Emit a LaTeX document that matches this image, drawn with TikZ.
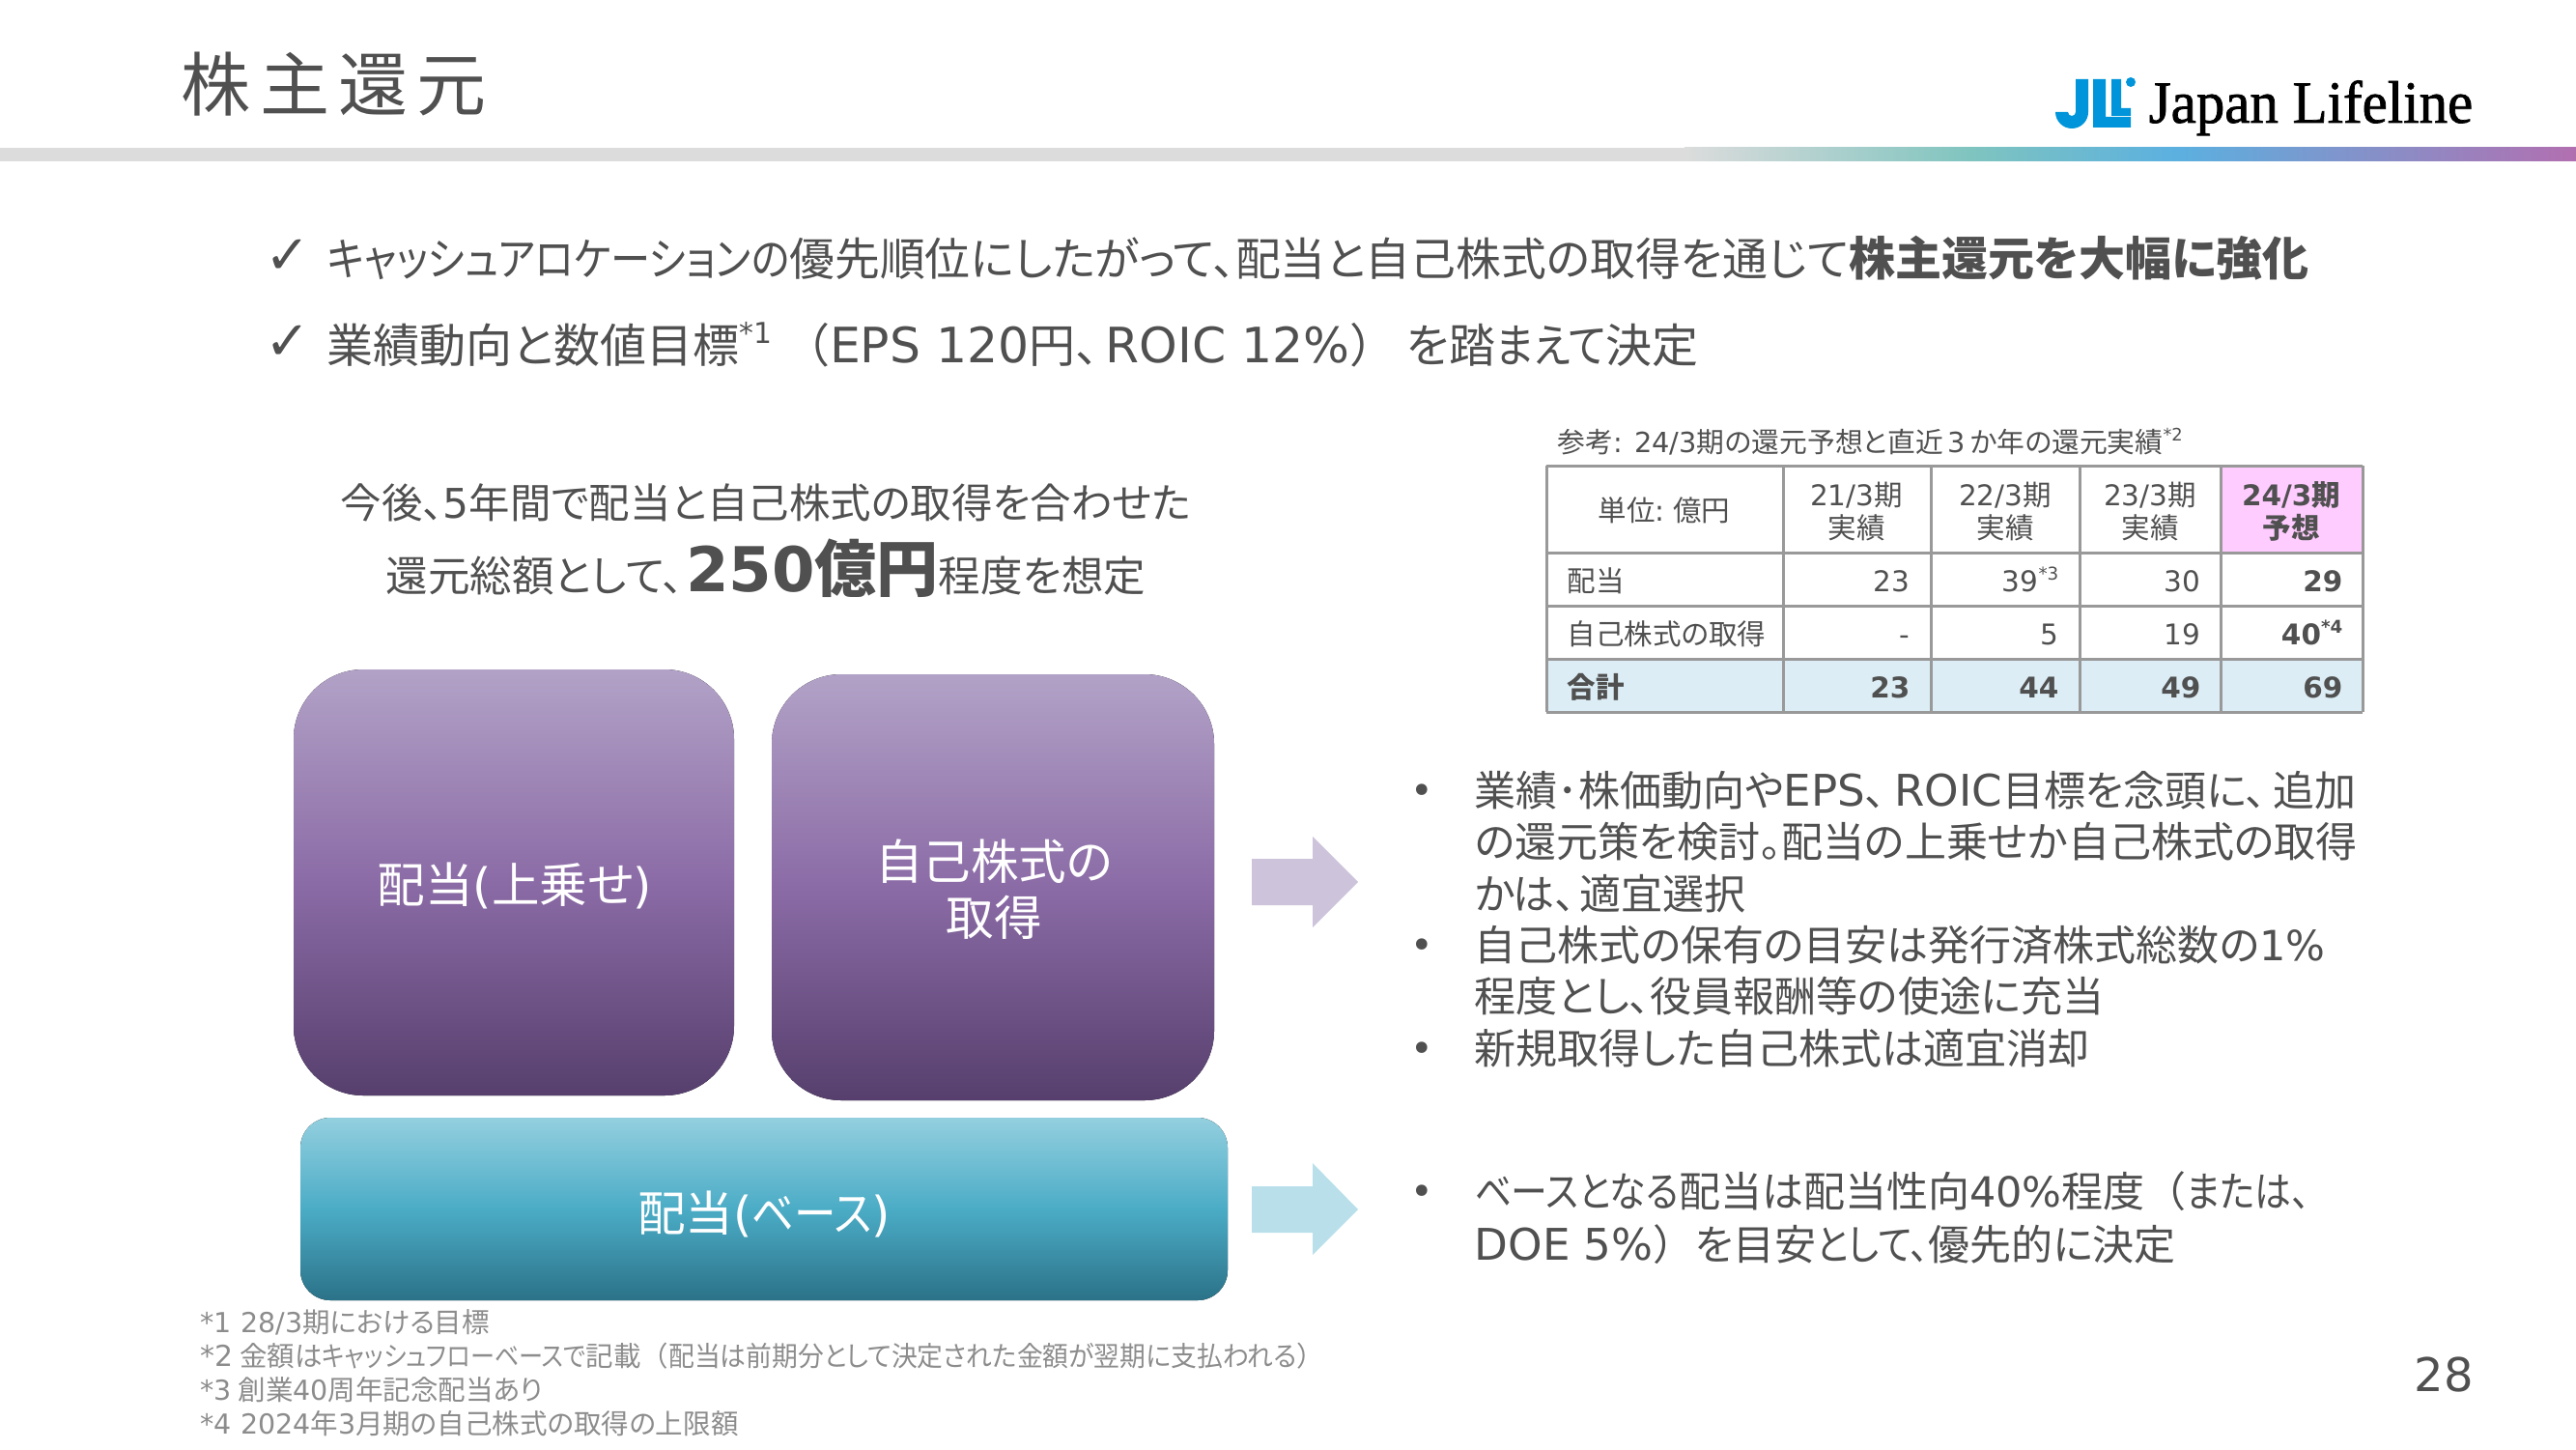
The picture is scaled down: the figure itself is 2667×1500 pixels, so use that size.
\documentclass[tikz,border=0pt]{standalone}
\usepackage{fontspec}
\usepackage{xcolor}
\usetikzlibrary{positioning}
\setmainfont{Noto Sans CJK JP}[RawFeature={+palt}]
\newfontfamily\lat{DejaVu Sans}
\newfontfamily\latw{DejaVu Sans}[Scale=1.05]
\newfontfamily\serifname{Liberation Serif}[FakeStretch=0.95, FakeBold=1.2]
\newfontfamily\titlefont{Noto Sans CJK JP}[LetterSpace=13]
\newfontfamily\narrow{Noto Sans CJK JP}[RawFeature={+palt}, FakeStretch=0.88]
\newfontfamily\narrowb{Noto Sans CJK JP}[RawFeature={+palt}, FakeStretch=0.94]
\newfontfamily\fullw{Noto Sans CJK JP}
\newcommand{\pxfont}[1]{\fontsize{\fpeval{#1*0.2845}}{\fpeval{#1*0.34}}\selectfont}
\newcommand{\la}[1]{{\lat #1}}
\newcommand{\lw}[1]{{\latw #1}}
\newcommand{\nk}[1]{{\narrow #1}}
\newcommand{\nb}[1]{{\narrowb #1}}
\newcommand{\fw}[1]{{\fullw #1}}
\makeatletter
\newcommand{\supr}[1]{\raisebox{.42em}{\lat\fontsize{\fpeval{\f@size*.62}}{1}\selectfont #1}}
\makeatother
\definecolor{ink}{HTML}{505050}
\definecolor{note}{HTML}{8C8C8C}
\definecolor{barbase}{HTML}{DCDCDC}
\definecolor{barteal}{HTML}{7FC4BF}
\definecolor{barblue}{HTML}{5BB0E0}
\definecolor{barpurple}{HTML}{B26FB0}
\definecolor{logoblue}{HTML}{0095DA}
\definecolor{gridgray}{HTML}{999999}
\definecolor{headpink}{HTML}{FFCCFF}
\definecolor{totalblue}{HTML}{DCEDF5}
\definecolor{purpleA}{HTML}{B2A2C7}
\definecolor{purpleB}{HTML}{8B6BA6}
\definecolor{purpleC}{HTML}{563F6D}
\definecolor{tealA}{HTML}{93CFDF}
\definecolor{tealB}{HTML}{4BACC6}
\definecolor{tealC}{HTML}{2B7288}
\tikzset{
    txt/.style={inner sep=0pt, text=ink, text height=1.06em, text depth=.14em},
    lead/.style={txt, anchor=west, font=\pxfont{46.8}},
    body/.style={txt, anchor=west, font=\pxfont{43}},
    mid/.style={txt, font=\pxfont{43.5}},
    cell/.style={txt, text height=.86em, font=\pxfont{29.5}},
    numcell/.style={cell, anchor=east},
    foot/.style={txt, text height=.86em, anchor=west, text=note, font=\pxfont{28.5}},
    dotmark/.style={txt, text height=.86em, font=\pxfont{56}\lat},
    purplebox/.style={rounded corners=0.72cm, top color=purpleA, bottom color=purpleC, middle color=purpleB},
    tealbox/.style={rounded corners=0.31cm, top color=tealA, bottom color=tealC, middle color=tealB},
    boxlabel/.style={txt, text=white, font=\pxfont{49.5}},
    tabline/.style={draw=gridgray, line width=0.03cm}
}
\begin{document}
\begin{tikzpicture}[x=0.01cm, y=-0.01cm]
    \useasboundingbox (0,0) rectangle (2667,1500);

    % header
    \node[txt, anchor=west, font=\pxfont{72}\titlefont] (title) at (187,98) {株主還元};
    \fill[barbase] (0,153) rectangle (1745,167);
    \shade[left color=barbase, right color=barteal] (1744,153) rectangle (2041,167);
    \shade[left color=barteal, right color=barblue] (2040,153) rectangle (2254,167);
    \shade[left color=barblue, right color=barpurple] (2253,153) rectangle (2667,167);

    % logo
    \fill[logoblue] (2149,82) -- (2162,82) -- (2162,116) arc[start angle=0, end angle=180, radius=17] -- (2141,116) arc[start angle=180, end angle=0, radius=4] -- cycle;
    \fill[logoblue] (2167,82) -- (2180,82) -- (2180,121) -- (2206,121) -- (2206,132) -- (2167,132) -- cycle;
    \fill[logoblue] (2186,82) -- (2196,82) -- (2196,112) -- (2206,112) -- (2206,120) -- (2186,120) -- cycle;
    \fill[logoblue] (2206,85) circle (5);
    \node[anchor=base west, inner sep=0pt, text=black, font=\pxfont{62}\serifname] (logoname) at (2224,127) {Japan Lifeline};

    % lead lines
    \node[dotmark] (checkA) at (298,271) {✓};
    \node[dotmark] (checkB) at (298,360) {✓};
    \node[lead] (leadA) at (338,269) {\nk{キャッシュアロケーションの}優先順位にしたがって、配当と自己株式の取得を通じて{\pxfont{48}\textbf{株主還元を大幅に強化}}};
    \node[lead, font=\pxfont{48}] (leadB) at (338,359) {業績動向と数値目標\supr{*1}\hspace{.25em}\fw{（}\lw{EPS 120}円、\hspace{.15em}\lw{ROIC 12\%}\fw{）}\hspace{.22em}を踏\nk{まえて}決定};

    % total amount
    \node[mid, font=\pxfont{42.4}] (sumA) at (793,520) {今後、\la{5}年間で配当と自己株式の取得を合わせた};
    \node[mid, anchor=base] (sumB) at (793,612) {還元総額として、\hspace{.06em}{\pxfont{64}\textbf{\la{250}億円}}程度を想定};

    % blocks
    \fill[purplebox] (304,693) rectangle (760,1134);
    \fill[purplebox] (799,698) rectangle (1257,1139);
    \fill[tealbox] (311,1157) rectangle (1271,1346);
    \node[boxlabel] (extra) at (533,918) {配当\la{(}上乗せ\la{)}};
    \node[boxlabel] (buybackA) at (1029,894) {自己株式の};
    \node[boxlabel] (buybackB) at (1029,952) {取得};
    \node[boxlabel] (base) at (791,1258) {配当\la{(}\nk{ベース}\la{)}};

    % block arrows
    \fill[purpleA!65] (1296,889) -- (1359,889) -- (1359,866) -- (1406,913) -- (1359,960) -- (1359,937) -- (1296,937) -- cycle;
    \fill[tealA!65] (1296,1228) -- (1359,1228) -- (1359,1204) -- (1406,1252) -- (1359,1299) -- (1359,1276) -- (1296,1276) -- cycle;

    % table
    \node[cell, anchor=west, font=\pxfont{28.8}] (tabtitle) at (1612,456) {参考\la{: 24/3}期の還元予想と直近\la{\,3\,}か年の還元実績\supr{*2}};
    \fill[headpink] (2299,482) rectangle (2446,572);
    \fill[totalblue] (1601,682) rectangle (2446,737);
    \foreach \x in {1601,1846,1999,2153,2299,2446}
        \draw[tabline] (\x,482) -- (\x,737);
    \foreach \y in {482,572,627,682,737}
        \draw[tabline] (1601,\y) -- (2446,\y);
    \node[cell] (unit) at (1723,527) {単位\la{:} 億円};
    \foreach \x/\p/\q [count=\i] in {1922/21/実績,2076/22/実績,2226/23/実績}{
        \node[cell] (yr\i) at (\x,511) {\la{\p/3}期};
        \node[cell] (st\i) at (\x,545) {\q};
    }
    \node[cell] (yr4) at (2372,511) {\textbf{\la{24/3}期}};
    \node[cell] (st4) at (2372,545) {\textbf{予想}};
    \node[cell, anchor=west] (rowA) at (1622,600) {配当};
    \node[cell, anchor=west] (rowB) at (1622,655) {自己株式の取得};
    \node[cell, anchor=west] (rowC) at (1622,710) {\textbf{合計}};
    \foreach \x/\a/\b/\c [count=\i] in {1978/23/-/23,2132/39\supr{*3}/5/44,2279/30/19/49}{
        \node[numcell] (a\i) at (\x,600) {\lat \a};
        \node[numcell] (b\i) at (\x,655) {\lat \b};
        \node[numcell] (c\i) at (\x,710) {\lat\bfseries \c};
    }
    \node[numcell] (a4) at (2426,600) {\lat\bfseries 29};
    \node[numcell] (b4) at (2426,655) {\lat\bfseries 40\supr{*4}};
    \node[numcell] (c4) at (2426,710) {\lat\bfseries 69};

    % bullet text
    \foreach \y in {820,980,1087,1235}
        \node[cell, font=\pxfont{40}\lat] at (1472,\y) {•};
    \node[body] (noteA) at (1526,818) {業績･株価動向や\lw{EPS}、\hspace{.2em}\lw{ROIC}目標を念頭に、\hspace{.15em}追加};
    \node[body] (noteB) at (1526,871) {の還元策を検討。配当の上乗せか自己株式の取得};
    \node[body] (noteC) at (1526,925) {かは、\hspace{.1em}適宜選択};
    \node[body] (noteD) at (1526,978) {自己株式の保有の目安は発行済株式総数の\la{1\%}};
    \node[body] (noteE) at (1526,1031) {程度とし、役員報酬等の使途に充当};
    \node[body] (noteF) at (1526,1085) {新規取得した自己株式は適宜消却};
    \node[body] (noteG) at (1526,1233) {\nk{ベースとなる}配当は配当性向\la{40\%}程度\fw{（}\nk{または、}};
    \node[body] (noteH) at (1526,1288) {\lw{DOE 5\%}\fw{）}を目安\nk{として、}優先的に決定};

    % footnotes and page number
    \node[foot] (footA) at (207,1367) {\la{*1 28/3}期における目標};
    \node[foot] (footB) at (207,1402) {\lw{*2} 金額は\nk{キャッシュフローベースで}記載\fw{（}\nb{配当は前期分として決定された金額が翌期に支払われる}\fw{）}};
    \node[foot] (footC) at (207,1437) {\la{*3} 創業\la{40}周年記念配当あり};
    \node[foot] (footD) at (207,1472) {\la{*4 2024}年\la{3}月期の自己株式の取得の上限額};
    \node[txt, font=\pxfont{48}\lat] (pageno) at (2530,1424) {28};
\end{tikzpicture}
\end{document}
